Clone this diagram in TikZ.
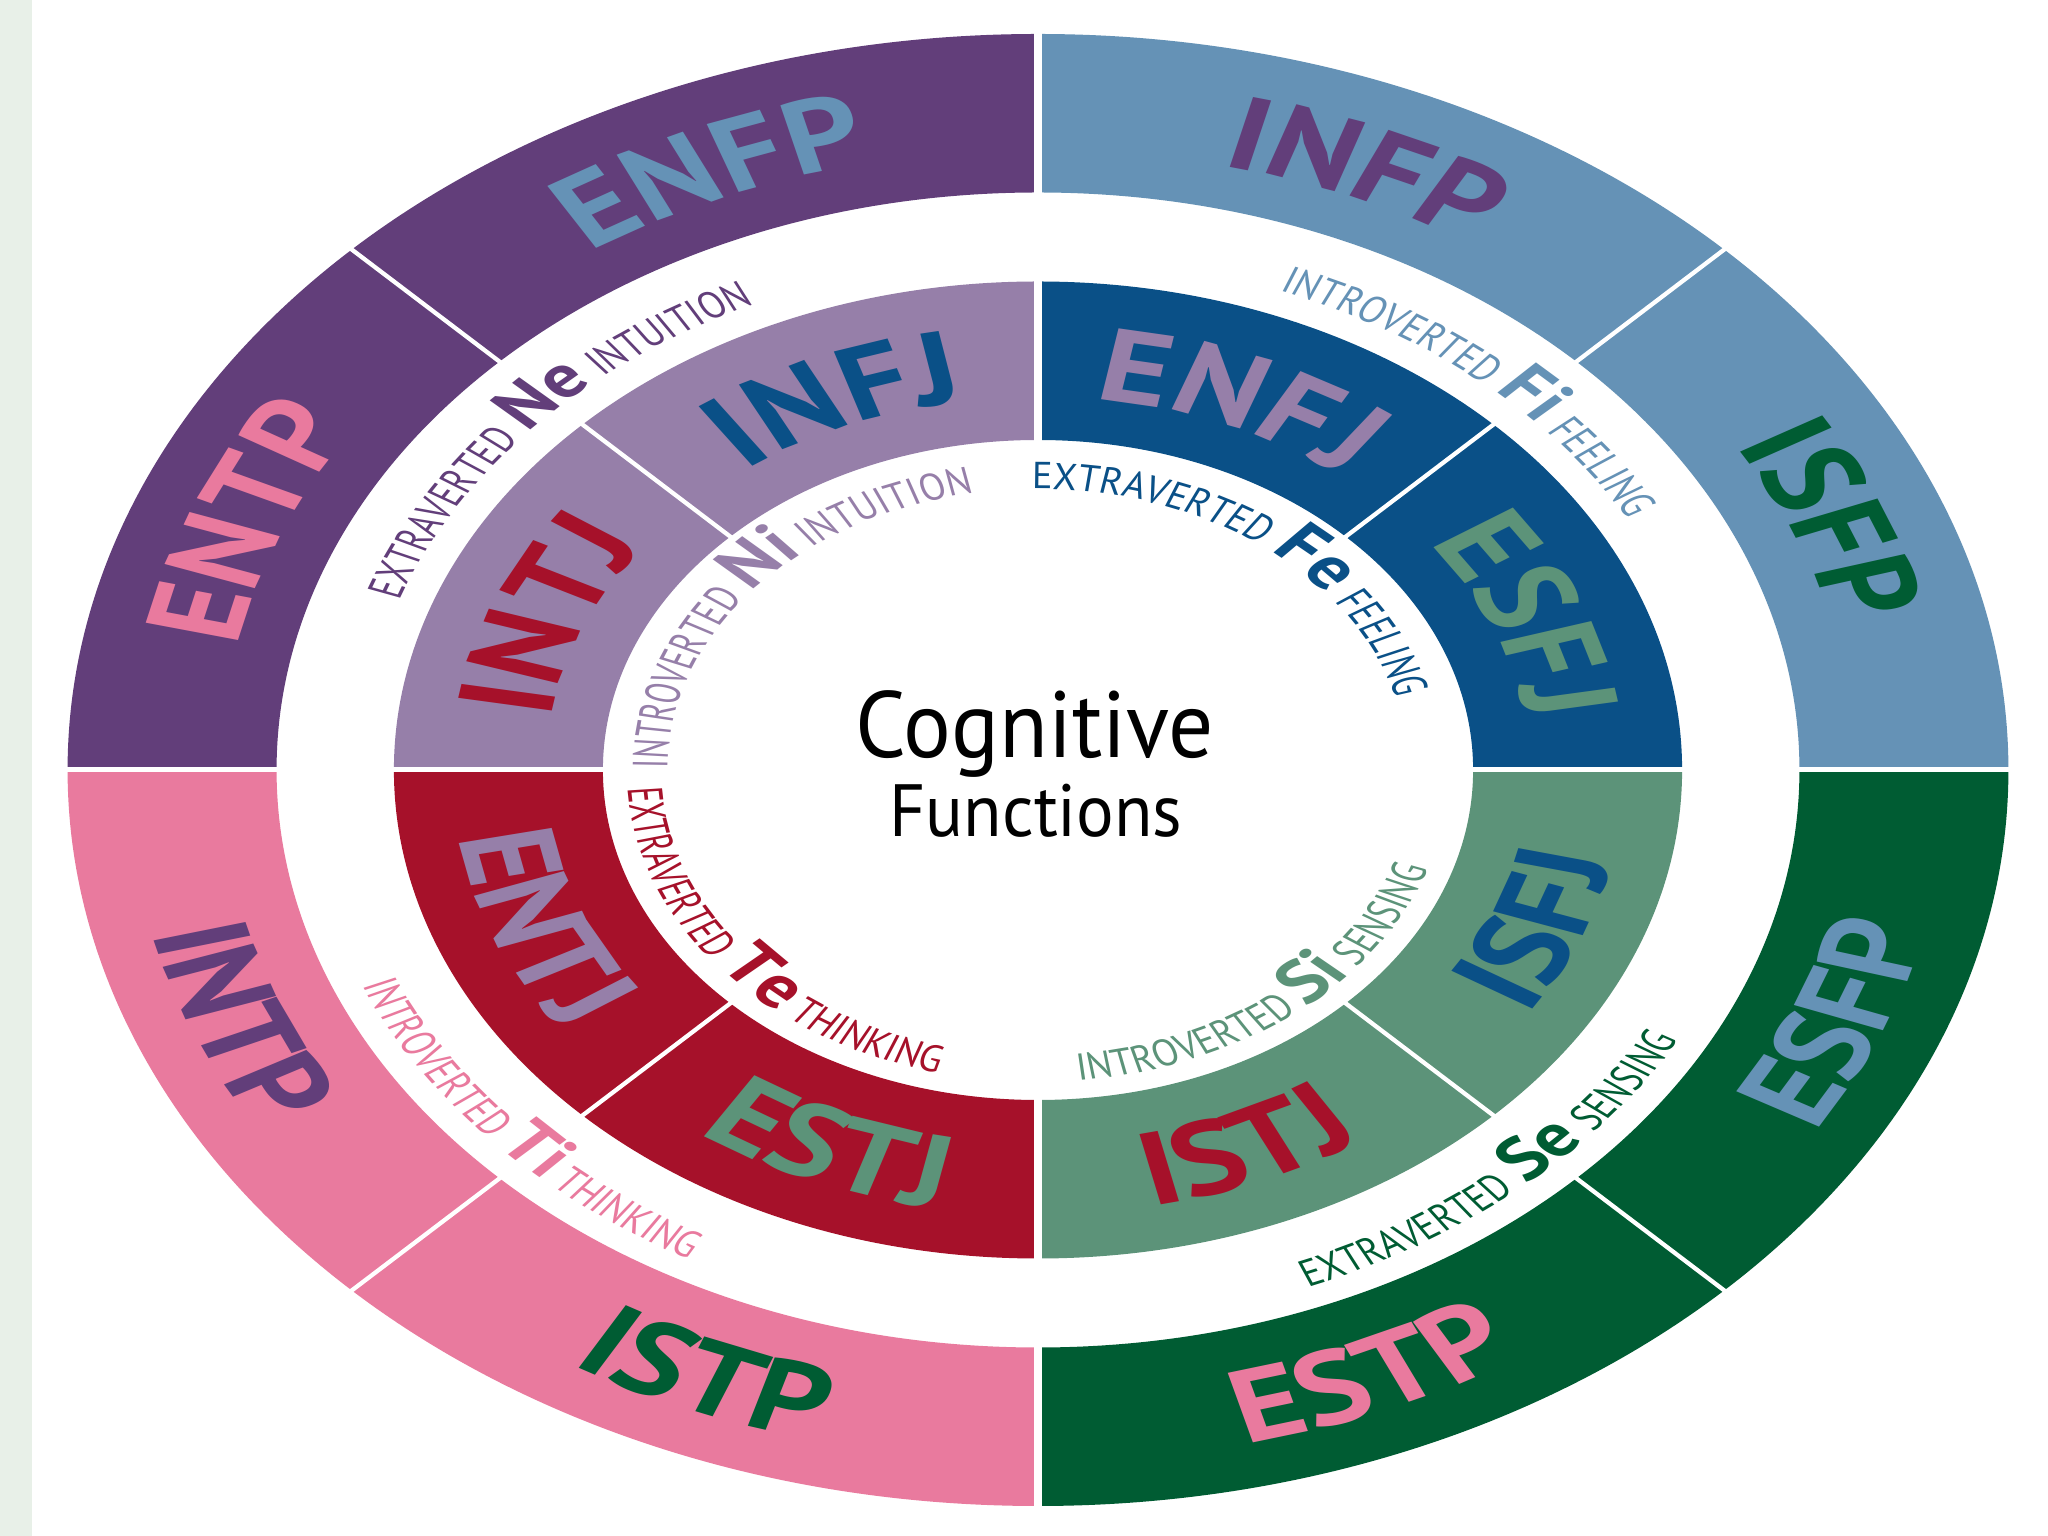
\documentclass[tikz,border=0pt]{standalone}
\usepackage{fontspec}
\setmainfont{PT Sans}
\newfontfamily\cogfont{PT Sans}[FakeStretch=0.95]
\newfontfamily\smfont{PT Sans}[FakeStretch=0.78]
\usetikzlibrary{decorations.text}

\definecolor{cPurple}{HTML}{623E7A}
\definecolor{cSteel}{HTML}{6592B6}
\definecolor{cGreen}{HTML}{005C33}
\definecolor{cPink}{HTML}{E97A9E}
\definecolor{cLav}{HTML}{967FA9}
\definecolor{cNavy}{HTML}{0A5087}
\definecolor{cSage}{HTML}{5C9379}
\definecolor{cRed}{HTML}{A6112A}
\definecolor{cStrip}{HTML}{E8F0E8}

\newcommand\BigF{\fontsize{103}{110}\selectfont\bfseries}
\newcommand\SmF{\smfont\fontsize{37.5}{40}\selectfont}
\newcommand\AbF{\fontsize{60}{66}\selectfont\bfseries}

% color, a1, a2, rout, rin
\newcommand\ringsector[5]{\fill[#1] (#2:#4pt) arc[start angle=#2, end angle=#3, radius=#4pt] -- (#3:#5pt) arc[start angle=#3, end angle=#2, radius=#5pt] -- cycle;}

% big labels: radius, angle, color, text
\newcommand\labcw[4]{\path[decorate,decoration={text along path,text align=center,text={|\BigF\color{#3}|#4}}] ({#2+60}:#1pt) arc[start angle={#2+60},end angle={#2-60},radius=#1pt];}
\newcommand\labccw[4]{\path[decorate,decoration={text along path,text align=center,text={|\BigF\color{#3}|#4}}] ({#2-60}:#1pt) arc[start angle={#2-60},end angle={#2+60},radius=#1pt];}

% function labels: radius, angle, color, prefix, abbr, suffix, half-gap angle
\newcommand\funccw[7]{%
 \path[decorate,decoration={text along path,text align=right,text={|\SmF\color{#3}|#4}}] ({#2+90}:#1pt) arc[start angle={#2+90},end angle={#2+#7},radius=#1pt];
 \path[decorate,decoration={text along path,text align=center,text={|\AbF\color{#3}|#5}}] ({#2+30}:#1pt) arc[start angle={#2+30},end angle={#2-30},radius=#1pt];
 \path[decorate,decoration={text along path,text align=left,text={|\SmF\color{#3}|#6}}] ({#2-#7}:#1pt) arc[start angle={#2-#7},end angle={#2-90},radius=#1pt];}
\newcommand\funcccw[7]{%
 \path[decorate,decoration={text along path,text align=right,text={|\SmF\color{#3}|#4}}] ({#2-90}:#1pt) arc[start angle={#2-90},end angle={#2-#7},radius=#1pt];
 \path[decorate,decoration={text along path,text align=center,text={|\AbF\color{#3}|#5}}] ({#2-30}:#1pt) arc[start angle={#2-30},end angle={#2+30},radius=#1pt];
 \path[decorate,decoration={text along path,text align=left,text={|\SmF\color{#3}|#6}}] ({#2+#7}:#1pt) arc[start angle={#2+#7},end angle={#2+90},radius=#1pt];}

\begin{document}
\begin{tikzpicture}[x=1pt,y=1pt]
\useasboundingbox (0,0) rectangle (2048,1536);
\fill[white] (0,0) rectangle (2048,1536);
\fill[cStrip] (0,0) rectangle (32,1536);
\begin{scope}[transform canvas={shift={(1038pt,766pt)},xscale=1.3185}]
 % outer ring
 \ringsector{cPurple}{90}{180}{736}{577.5}
 \ringsector{cSteel}{0}{90}{736}{577.5}
 \ringsector{cGreen}{-90}{0}{736}{577.5}
 \ringsector{cPink}{180}{270}{736}{577.5}
 % inner ring
 \ringsector{cLav}{90}{180}{488.5}{330}
 \ringsector{cNavy}{0}{90}{488.5}{330}
 \ringsector{cSage}{-90}{0}{488.5}{330}
 \ringsector{cRed}{180}{270}{488.5}{330}
 % dividers
 \foreach \a in {45,135,225,315} \draw[white,line width=3.8pt] (\a:322pt) -- (\a:745pt);
 \foreach \a in {0,180} \draw[white,line width=5pt] (\a:322pt) -- (\a:745pt);
 \foreach \a in {90,270} \draw[white,line width=6pt] (\a:322pt) -- (\a:745pt);
 % outer labels
 \labcw{620}{157.5}{cPink}{ENTP}
 \labcw{620}{112.5}{cSteel}{ENFP}
 \labcw{620}{67.5}{cPurple}{INFP}
 \labcw{620}{22.5}{cGreen}{ISFP}
 \labccw{692}{-22.5}{cSteel}{ESFP}
 \labccw{692}{-67.5}{cPink}{ESTP}
 \labccw{692}{-112.5}{cGreen}{ISTP}
 \labccw{692}{-157.5}{cPurple}{INTP}
 % inner labels
 \labcw{373}{157.5}{cRed}{INTJ}
 \labcw{373}{112.5}{cNavy}{INFJ}
 \labcw{373}{67.5}{cLav}{ENFJ}
 \labcw{373}{22.5}{cSage}{ESFJ}
 \labccw{445}{-22.5}{cNavy}{ISFJ}
 \labccw{445}{-67.5}{cRed}{ISTJ}
 \labccw{445}{-112.5}{cSage}{ESTJ}
 \labccw{445}{-157.5}{cLav}{ENTJ}
 % function labels
 \funccw{513}{135}{cPurple}{EXTRAVERTED}{Ne}{INTUITION}{5.0}
 \funccw{513}{45}{cSteel}{INTROVERTED}{Fi}{FEELING}{3.7}
 \funccw{281}{135}{cLav}{INTROVERTED}{Ni}{INTUITION}{7.4}
 \funccw{281}{45}{cNavy}{EXTRAVERTED}{Fe}{FEELING}{8.2}
 \funcccw{556}{225}{cPink}{INTROVERTED}{Ti}{THINKING}{3.4}
 \funcccw{556}{-45}{cGreen}{EXTRAVERTED}{Se}{SENSING}{4.3}
 \funcccw{312}{225}{cRed}{EXTRAVERTED}{Te}{THINKING}{7.5}
 \funcccw{312}{-45}{cSage}{INTROVERTED}{Si}{SENSING}{5.8}
\end{scope}
\node[anchor=base,inner sep=0pt,font=\cogfont\fontsize{94}{100}\selectfont] (cog) at (1035,778) {Cognitive};
\node[anchor=base,inner sep=0pt,font=\cogfont\fontsize{74}{80}\selectfont] (fun) at (1036,699) {Functions};
\end{tikzpicture}
\end{document}
